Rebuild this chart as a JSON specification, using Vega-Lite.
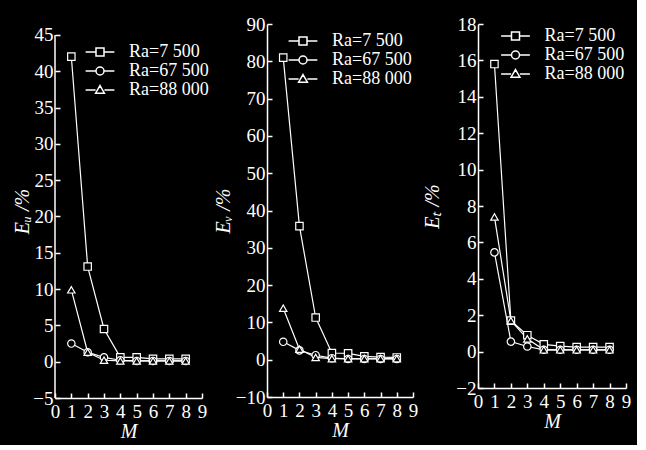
{
  "$schema": "https://vega.github.io/schema/vega-lite/v6.json",
  "background": "black",
  "padding": {"left": 12, "top": 15, "right": 6, "bottom": 4},
  "spacing": 4,
  "datasets": {
    "eu": [
      {"M": 1, "series": "Ra=7 500", "value": 42.0},
      {"M": 2, "series": "Ra=7 500", "value": 13.1},
      {"M": 3, "series": "Ra=7 500", "value": 4.5},
      {"M": 4, "series": "Ra=7 500", "value": 0.6},
      {"M": 5, "series": "Ra=7 500", "value": 0.6},
      {"M": 6, "series": "Ra=7 500", "value": 0.4},
      {"M": 7, "series": "Ra=7 500", "value": 0.4},
      {"M": 8, "series": "Ra=7 500", "value": 0.4},
      {"M": 1, "series": "Ra=67 500", "value": 2.5},
      {"M": 2, "series": "Ra=67 500", "value": 1.3},
      {"M": 3, "series": "Ra=67 500", "value": 0.6},
      {"M": 4, "series": "Ra=67 500", "value": 0.2},
      {"M": 5, "series": "Ra=67 500", "value": 0.1},
      {"M": 6, "series": "Ra=67 500", "value": 0.1},
      {"M": 7, "series": "Ra=67 500", "value": 0.1},
      {"M": 8, "series": "Ra=67 500", "value": 0.1},
      {"M": 1, "series": "Ra=88 000", "value": 9.9},
      {"M": 2, "series": "Ra=88 000", "value": 1.3},
      {"M": 3, "series": "Ra=88 000", "value": 0.2},
      {"M": 4, "series": "Ra=88 000", "value": 0.1},
      {"M": 5, "series": "Ra=88 000", "value": 0.1},
      {"M": 6, "series": "Ra=88 000", "value": 0.1},
      {"M": 7, "series": "Ra=88 000", "value": 0.1},
      {"M": 8, "series": "Ra=88 000", "value": 0.1}
    ],
    "ev": [
      {"M": 1, "series": "Ra=7 500", "value": 81.0},
      {"M": 2, "series": "Ra=7 500", "value": 35.8},
      {"M": 3, "series": "Ra=7 500", "value": 11.3},
      {"M": 4, "series": "Ra=7 500", "value": 1.8},
      {"M": 5, "series": "Ra=7 500", "value": 1.7},
      {"M": 6, "series": "Ra=7 500", "value": 0.9},
      {"M": 7, "series": "Ra=7 500", "value": 0.7},
      {"M": 8, "series": "Ra=7 500", "value": 0.6},
      {"M": 1, "series": "Ra=67 500", "value": 4.8},
      {"M": 2, "series": "Ra=67 500", "value": 2.5},
      {"M": 3, "series": "Ra=67 500", "value": 1.2},
      {"M": 4, "series": "Ra=67 500", "value": 0.4},
      {"M": 5, "series": "Ra=67 500", "value": 0.2},
      {"M": 6, "series": "Ra=67 500", "value": 0.2},
      {"M": 7, "series": "Ra=67 500", "value": 0.2},
      {"M": 8, "series": "Ra=67 500", "value": 0.2},
      {"M": 1, "series": "Ra=88 000", "value": 13.8},
      {"M": 2, "series": "Ra=88 000", "value": 2.8},
      {"M": 3, "series": "Ra=88 000", "value": 0.6},
      {"M": 4, "series": "Ra=88 000", "value": 0.3},
      {"M": 5, "series": "Ra=88 000", "value": 0.3},
      {"M": 6, "series": "Ra=88 000", "value": 0.3},
      {"M": 7, "series": "Ra=88 000", "value": 0.3},
      {"M": 8, "series": "Ra=88 000", "value": 0.3}
    ],
    "et": [
      {"M": 1, "series": "Ra=7 500", "value": 15.8},
      {"M": 2, "series": "Ra=7 500", "value": 1.7},
      {"M": 3, "series": "Ra=7 500", "value": 0.9},
      {"M": 4, "series": "Ra=7 500", "value": 0.4},
      {"M": 5, "series": "Ra=7 500", "value": 0.3},
      {"M": 6, "series": "Ra=7 500", "value": 0.25},
      {"M": 7, "series": "Ra=7 500", "value": 0.25},
      {"M": 8, "series": "Ra=7 500", "value": 0.25},
      {"M": 1, "series": "Ra=67 500", "value": 5.45},
      {"M": 2, "series": "Ra=67 500", "value": 0.55},
      {"M": 3, "series": "Ra=67 500", "value": 0.28},
      {"M": 4, "series": "Ra=67 500", "value": 0.1},
      {"M": 5, "series": "Ra=67 500", "value": 0.1},
      {"M": 6, "series": "Ra=67 500", "value": 0.1},
      {"M": 7, "series": "Ra=67 500", "value": 0.1},
      {"M": 8, "series": "Ra=67 500", "value": 0.1},
      {"M": 1, "series": "Ra=88 000", "value": 7.4},
      {"M": 2, "series": "Ra=88 000", "value": 1.7},
      {"M": 3, "series": "Ra=88 000", "value": 0.7},
      {"M": 4, "series": "Ra=88 000", "value": 0.1},
      {"M": 5, "series": "Ra=88 000", "value": 0.1},
      {"M": 6, "series": "Ra=88 000", "value": 0.1},
      {"M": 7, "series": "Ra=88 000", "value": 0.1},
      {"M": 8, "series": "Ra=88 000", "value": 0.1}
    ]
  },
  "hconcat": [
    {
      "width": 147,
      "height": 374,
      "data": {"name": "eu"},
      "encoding": {
        "x": {"field": "M", "type": "quantitative", "scale": {"domain": [0, 9], "nice": false}, "axis": {"values": [0,1,2,3,4,5,6,7,8,9], "title": "M"}},
        "y": {"field": "value", "type": "quantitative", "scale": {"domain": [-5, 46.5], "nice": false, "zero": false}, "axis": {"values": [-5,0,5,10,15,20,25,30,35,40,45], "title": "Eᵤ /%", "domain": false, "titlePadding": 0}}
      },
      "layer": [
        {"data": {"values": [{"x0": 0, "ylo": -5, "yhi": 45}]},
         "mark": {"type": "rule", "color": "white", "strokeWidth": 1.5},
         "encoding": {"x": {"field": "x0", "type": "quantitative"}, "y": {"field": "ylo", "type": "quantitative"}, "y2": {"field": "yhi"}}},
        {"mark": {"type": "line", "color": "white", "strokeWidth": 1.2}, "encoding": {"detail": {"field": "series"}}},
        {"mark": {"type": "point", "filled": true, "fill": "black", "stroke": "white", "strokeWidth": 1.2, "size": 55, "opacity": 1},
         "encoding": {"shape": {"field": "series", "type": "nominal", "scale": {"domain": ["Ra=7 500", "Ra=67 500", "Ra=88 000"], "range": ["square", "circle", "triangle-up"]}, "legend": null}}},
        {"mark": {"type": "point", "filled": true, "fill": "black", "stroke": "white", "opacity": 0, "size": 64},
         "encoding": {"shape": {"field": "series", "type": "nominal",
           "scale": {"domain": ["Ra=7 500", "Ra=67 500", "Ra=88 000"], "range": ["M-3.6,0H-1M1,0H3.6M-1,-1H1V1H-1Z", "M-3.6,0H-1M1,0H3.6M1,0A1,1,0,1,1,-1,0A1,1,0,1,1,1,0Z", "M-3.6,0H-1.1M1.1,0H3.6M0,-1.1L1.1,0.8H-1.1Z"]},
           "legend": {"orient": "none", "legendX": 36, "legendY": 19, "title": null,
             "encode": {"symbols": {"update": {"opacity": {"value": 1}, "fill": {"value": "black"}, "stroke": {"value": "white"}, "strokeWidth": {"value": 1.2}}}}}}}}
      ],
      "resolve": {"scale": {"shape": "independent"}}
    },
    {
      "width": 146,
      "height": 373,
      "data": {"name": "ev"},
      "encoding": {
        "x": {"field": "M", "type": "quantitative", "scale": {"domain": [0, 9], "nice": false}, "axis": {"values": [0,1,2,3,4,5,6,7,8,9], "title": "M"}},
        "y": {"field": "value", "type": "quantitative", "scale": {"domain": [-10, 90], "nice": false, "zero": false}, "axis": {"values": [-10,0,10,20,30,40,50,60,70,80,90], "title": "Eᵥ /%", "titlePadding": 2}}
      },
      "layer": [
        {"mark": {"type": "line", "color": "white", "strokeWidth": 1.2}, "encoding": {"detail": {"field": "series"}}},
        {"mark": {"type": "point", "filled": true, "fill": "black", "stroke": "white", "strokeWidth": 1.2, "size": 55, "opacity": 1},
         "encoding": {"shape": {"field": "series", "type": "nominal", "scale": {"domain": ["Ra=7 500", "Ra=67 500", "Ra=88 000"], "range": ["square", "circle", "triangle-up"]}, "legend": null}}},
        {"mark": {"type": "point", "filled": true, "fill": "black", "stroke": "white", "opacity": 0, "size": 64},
         "encoding": {"shape": {"field": "series", "type": "nominal",
           "scale": {"domain": ["Ra=7 500", "Ra=67 500", "Ra=88 000"], "range": ["M-3.6,0H-1M1,0H3.6M-1,-1H1V1H-1Z", "M-3.6,0H-1M1,0H3.6M1,0A1,1,0,1,1,-1,0A1,1,0,1,1,1,0Z", "M-3.6,0H-1.1M1.1,0H3.6M0,-1.1L1.1,0.8H-1.1Z"]},
           "legend": {"orient": "none", "legendX": 27, "legendY": 8, "title": null,
             "encode": {"symbols": {"update": {"opacity": {"value": 1}, "fill": {"value": "black"}, "stroke": {"value": "white"}, "strokeWidth": {"value": 1.2}}}}}}}}
      ],
      "resolve": {"scale": {"shape": "independent"}}
    },
    {
      "width": 148,
      "height": 364,
      "data": {"name": "et"},
      "encoding": {
        "x": {"field": "M", "type": "quantitative", "scale": {"domain": [0, 9], "nice": false}, "axis": {"values": [0,1,2,3,4,5,6,7,8,9], "title": "M"}},
        "y": {"field": "value", "type": "quantitative", "scale": {"domain": [-2, 18], "nice": false, "zero": false}, "axis": {"values": [-2,0,2,4,6,8,10,12,14,16,18], "title": "Eₜ /%", "titlePadding": 13}}
      },
      "layer": [
        {"mark": {"type": "line", "color": "white", "strokeWidth": 1.2}, "encoding": {"detail": {"field": "series"}}},
        {"mark": {"type": "point", "filled": true, "fill": "black", "stroke": "white", "strokeWidth": 1.2, "size": 55, "opacity": 1},
         "encoding": {"shape": {"field": "series", "type": "nominal", "scale": {"domain": ["Ra=7 500", "Ra=67 500", "Ra=88 000"], "range": ["square", "circle", "triangle-up"]}, "legend": null}}},
        {"mark": {"type": "point", "filled": true, "fill": "black", "stroke": "white", "opacity": 0, "size": 64},
         "encoding": {"shape": {"field": "series", "type": "nominal",
           "scale": {"domain": ["Ra=7 500", "Ra=67 500", "Ra=88 000"], "range": ["M-3.6,0H-1M1,0H3.6M-1,-1H1V1H-1Z", "M-3.6,0H-1M1,0H3.6M1,0A1,1,0,1,1,-1,0A1,1,0,1,1,1,0Z", "M-3.6,0H-1.1M1.1,0H3.6M0,-1.1L1.1,0.8H-1.1Z"]},
           "legend": {"orient": "none", "legendX": 28.5, "legendY": 3, "title": null,
             "encode": {"symbols": {"update": {"opacity": {"value": 1}, "fill": {"value": "black"}, "stroke": {"value": "white"}, "strokeWidth": {"value": 1.2}}}}}}}}
      ],
      "resolve": {"scale": {"shape": "independent"}}
    }
  ],
  "config": {
    "view": {"stroke": null},
    "font": "Liberation Serif",
    "axis": {
      "grid": false,
      "domainColor": "white", "domainWidth": 1.5,
      "tickColor": "white", "tickWidth": 1.5, "tickSize": -5,
      "labelColor": "white", "labelFont": "Liberation Serif", "labelFontSize": 19, "labelPadding": 7,
      "labelFlush": false, "labelOverlap": false,
      "titleColor": "white", "titleFont": "Liberation Serif", "titleFontSize": 20, "titleFontStyle": "italic", "titleFontWeight": "normal"
    },
    "axisX": {"labelPadding": 9, "titlePadding": 0},
    "legend": {
      "labelColor": "white", "labelFont": "Liberation Serif", "labelFontSize": 18,
      "labelOffset": 20, "rowPadding": 1, "padding": 0, "symbolSize": 64, "labelLimit": 200
    }
  }
}
